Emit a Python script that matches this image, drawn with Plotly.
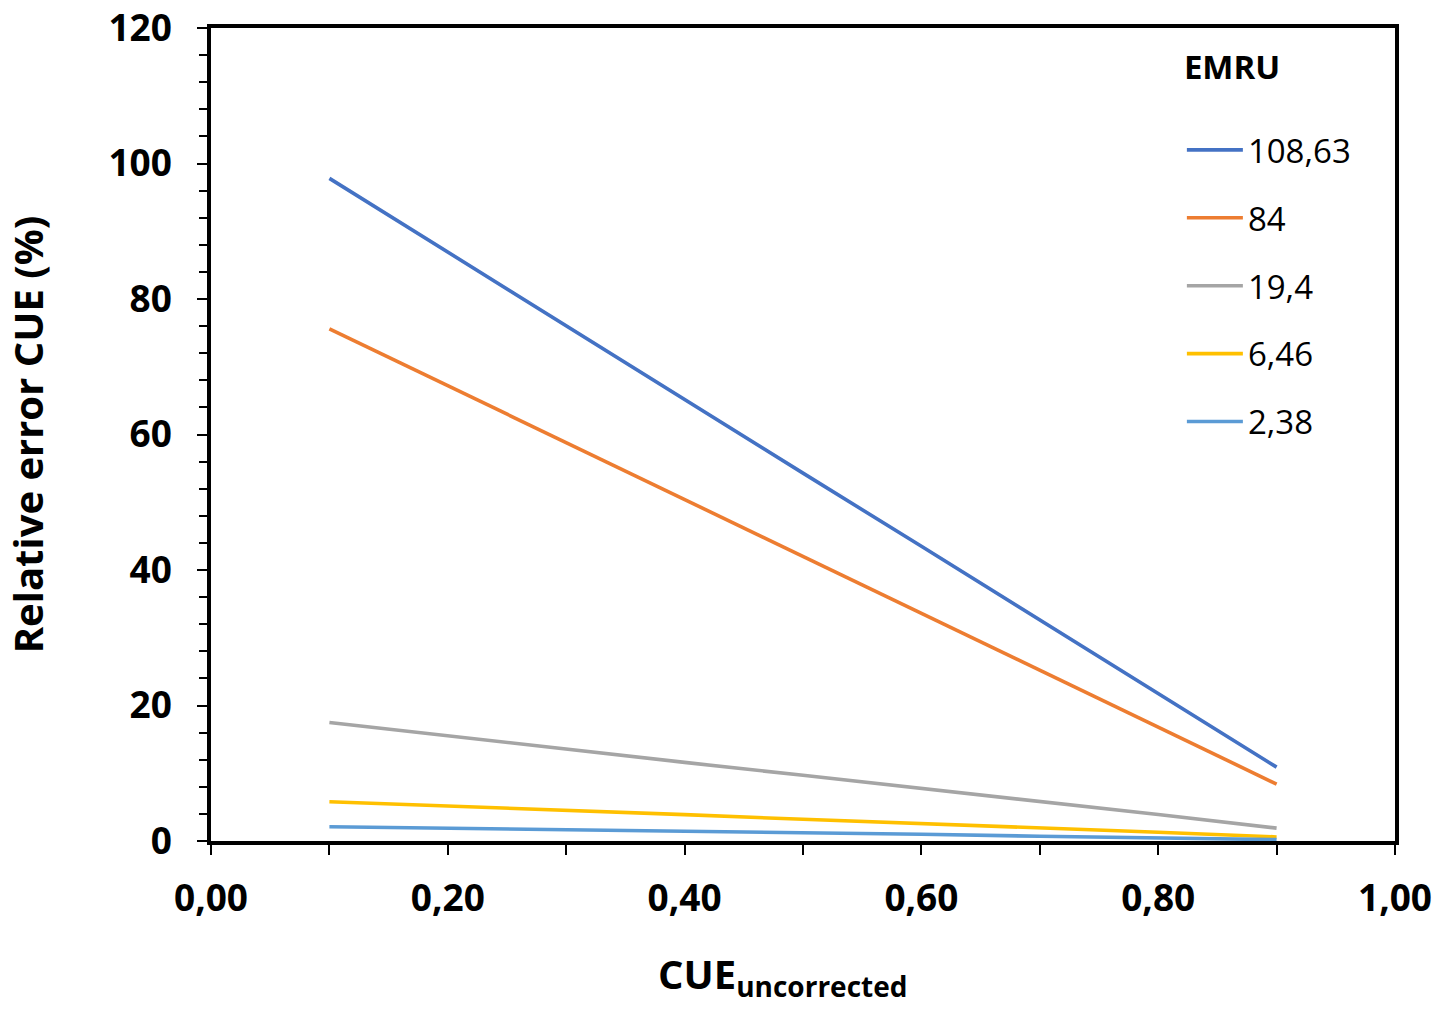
import plotly.graph_objects as go

cue = [0.1, 0.2, 0.3, 0.4, 0.5, 0.6, 0.7, 0.8, 0.9]
series_names = ["108,63", "84", "19,4", "6,46", "2,38"]
err_10863 = [97.8, 86.9, 76.0, 65.2, 54.3, 43.5, 32.6, 21.7, 10.9]
err_84 = [75.6, 67.2, 58.8, 50.4, 42.0, 33.6, 25.2, 16.8, 8.4]
err_194 = [17.5, 15.5, 13.6, 11.6, 9.7, 7.8, 5.8, 3.9, 1.9]
err_646 = [5.8, 5.2, 4.5, 3.9, 3.2, 2.6, 1.9, 1.3, 0.6]
err_238 = [2.1, 1.9, 1.7, 1.4, 1.2, 1.0, 0.7, 0.5, 0.2]
colors = ["#4472C4", "#ED7D31", "#A5A5A5", "#FFC000", "#5B9BD5"]

x_ticks = [0.0, 0.2, 0.4, 0.6, 0.8, 1.0]
y_ticks = [0, 20, 40, 60, 80, 100, 120]

FONT = "Open Sans"

fig = go.Figure()
for i, (name, ys) in enumerate(zip(series_names, [err_10863, err_84, err_194, err_646, err_238])):
    fig.add_trace(go.Scatter(
        x=cue, y=ys, mode="lines", name=name, legendgroup=f"g{i}",
        line=dict(color=colors[i], width=3.6),
    ))

axis_common = dict(
    showline=True, linecolor="black", linewidth=3.5, mirror=True,
    showgrid=False, zeroline=False, automargin=False,
    ticks="outside", tickcolor="black", tickwidth=2, ticklen=10,
    ticklabeloverflow="allow",
    tickfont=dict(family=FONT, size=37, color="black", weight="bold"),
)

fig.update_xaxes(
    range=[0, 1.0], tickvals=x_ticks, tickformat=".2f",
    minor=dict(dtick=0.1, ticks="outside", ticklen=10, tickwidth=1.5, tickcolor="black"),
    ticklabelstandoff=12,
    **axis_common,
)
fig.update_yaxes(
    range=[0, 120], tickvals=y_ticks,
    minor=dict(dtick=4, ticks="outside", ticklen=8, tickwidth=1.5, tickcolor="black"),
    ticklabelstandoff=18,
    title=dict(text="<b>Relative error CUE (%)</b>", font=dict(family=FONT, size=40, color="black"), standoff=68),
    **axis_common,
)

fig.add_annotation(
    text="<b>CUE<sub>uncorrected</sub></b>", xref="paper", yref="paper",
    x=0.483, y=-0.165, xanchor="center", yanchor="middle", showarrow=False,
    font=dict(family=FONT, size=40, color="black"),
)

fig.update_layout(
    width=1443, height=1012,
    margin=dict(l=211, r=48, t=28, b=171),
    paper_bgcolor="white", plot_bgcolor="white",
    separators=",.",
    showlegend=True,
    legend=dict(
        x=0.82, y=0.99, xanchor="left", yanchor="top",
        title=dict(text="<b>EMRU</b><br> ", font=dict(family=FONT, size=33, color="black"), side="top"),
        font=dict(family=FONT, size=33, color="black"),
        bgcolor="rgba(0,0,0,0)", tracegroupgap=22, itemwidth=56,
    ),
)

fig.write_html("out.html", config={"displayModeBar": False},
               post_script="document.body.style.margin='0';")
